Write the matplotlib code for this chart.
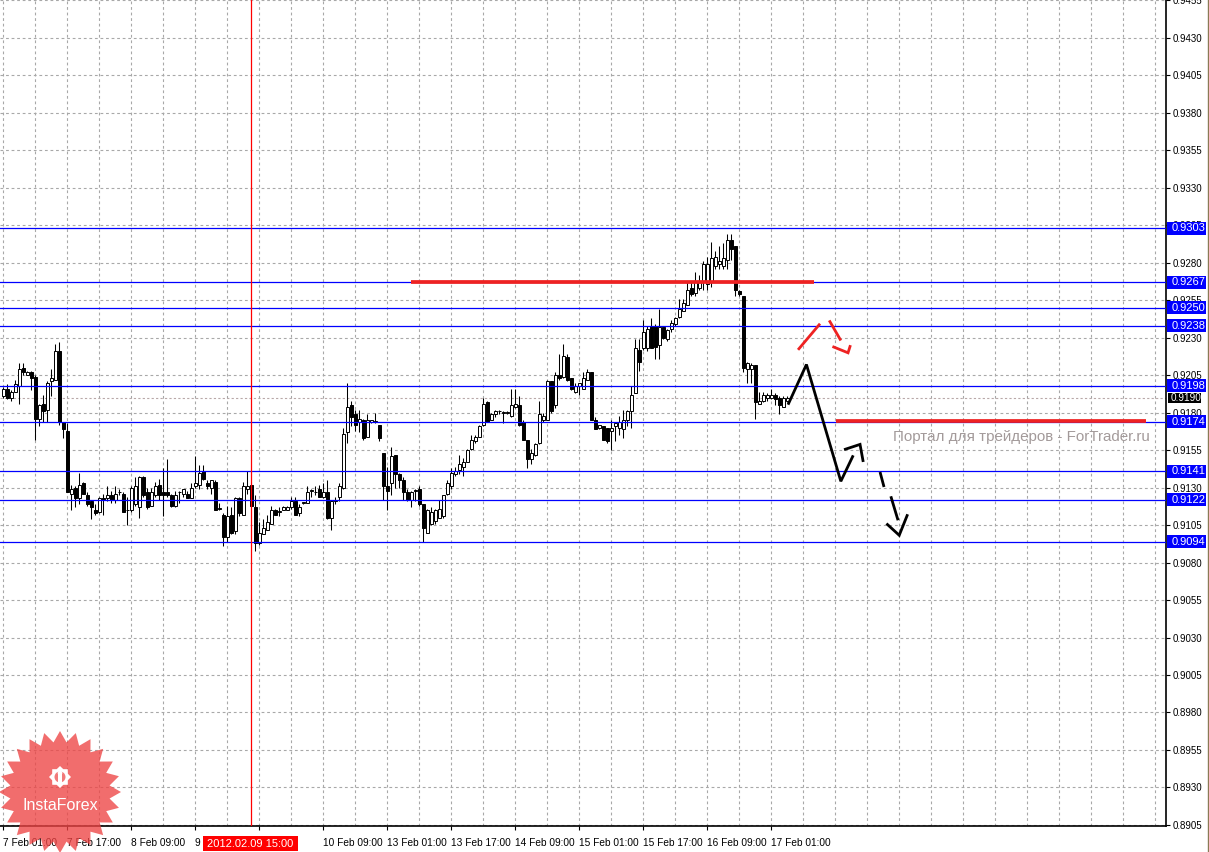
import numpy as np
import matplotlib.pyplot as plt
import matplotlib.transforms as mtransforms
from matplotlib.patches import Polygon, Rectangle, Circle
from matplotlib.ticker import MultipleLocator, FixedLocator
from matplotlib.lines import Line2D

plt.rcParams['font.family'] = ['Liberation Sans', 'DejaVu Sans']

# H1 candles, prices in pips (1 pip = 0.0001)
open_p = [9191, 9196, 9190, 9194, 9198, 9210, 9205, 9207, 9204, 9176,
          9186, 9182, 9201, 9202, 9221, 9174, 9168, 9126, 9130, 9123,
          9133, 9125, 9121, 9115, 9114, 9123, 9123, 9125, 9122, 9127,
          9126, 9115, 9115, 9119, 9117, 9137, 9127, 9118, 9125, 9132,
          9127, 9127, 9125, 9118, 9127, 9126, 9126, 9123, 9131, 9132,
          9141, 9133, 9130, 9134, 9116, 9112, 9097, 9112, 9101, 9123,
          9112, 9129, 9132, 9117, 9093, 9099, 9102, 9106, 9115, 9114,
          9115, 9115, 9117, 9121, 9113, 9120, 9120, 9128, 9127, 9129,
          9124, 9127, 9110, 9121, 9124, 9130, 9167, 9185, 9179, 9174,
          9175, 9164, 9174, 9174, 9172, 9153, 9131, 9133, 9152, 9139,
          9135, 9127, 9122, 9128, 9129, 9119, 9100, 9106, 9108, 9110,
          9111, 9126, 9131, 9139, 9142, 9144, 9147, 9156, 9161, 9164,
          9172, 9187, 9175, 9179, 9181, 9180, 9180, 9178, 9184, 9185,
          9174, 9162, 9149, 9152, 9160, 9175, 9175, 9201, 9185, 9205,
          9204, 9217, 9203, 9194, 9198, 9196, 9202, 9207, 9175, 9170,
          9171, 9170, 9168, 9171, 9170, 9169, 9175, 9181, 9193, 9222,
          9223, 9223, 9238, 9238, 9225, 9237, 9229, 9236, 9239, 9244,
          9248, 9252, 9263, 9260, 9263, 9267, 9266, 9268, 9278, 9279,
          9278, 9282, 9295, 9291, 9261, 9258, 9209, 9209, 9212, 9186,
          9188, 9190, 9190, 9192, 9190, 9184, 9188]
high_p = [9197, 9199, 9195, 9202, 9213, 9213, 9208, 9208, 9205, 9186,
          9192, 9201, 9209, 9226, 9227, 9174, 9173, 9132, 9131, 9140,
          9134, 9127, 9121, 9119, 9124, 9126, 9131, 9128, 9131, 9129,
          9127, 9124, 9131, 9137, 9138, 9138, 9130, 9130, 9134, 9136,
          9143, 9149, 9126, 9128, 9128, 9129, 9128, 9133, 9151, 9145,
          9145, 9135, 9135, 9135, 9120, 9113, 9118, 9117, 9124, 9124,
          9134, 9141, 9134, 9125, 9107, 9109, 9112, 9118, 9116, 9117,
          9118, 9118, 9124, 9124, 9119, 9120, 9131, 9129, 9131, 9132,
          9133, 9135, 9122, 9124, 9133, 9170, 9200, 9188, 9182, 9182,
          9176, 9179, 9175, 9180, 9172, 9153, 9144, 9157, 9152, 9140,
          9137, 9129, 9128, 9129, 9131, 9119, 9116, 9117, 9116, 9122,
          9125, 9135, 9143, 9144, 9152, 9150, 9156, 9165, 9165, 9172,
          9190, 9188, 9180, 9182, 9182, 9181, 9181, 9196, 9196, 9191,
          9175, 9162, 9156, 9160, 9188, 9180, 9202, 9201, 9207, 9219,
          9226, 9219, 9203, 9200, 9200, 9207, 9209, 9207, 9177, 9172,
          9171, 9170, 9175, 9174, 9178, 9182, 9182, 9198, 9229, 9229,
          9242, 9238, 9243, 9239, 9249, 9238, 9236, 9242, 9244, 9256,
          9256, 9267, 9267, 9274, 9272, 9281, 9284, 9294, 9288, 9291,
          9293, 9299, 9299, 9291, 9262, 9258, 9214, 9213, 9212, 9194,
          9194, 9193, 9196, 9193, 9191, 9191, 9191]
low_p = [9190, 9189, 9188, 9194, 9186, 9205, 9205, 9195, 9162, 9171,
         9174, 9174, 9191, 9202, 9172, 9163, 9127, 9115, 9117, 9119,
         9126, 9118, 9109, 9112, 9113, 9112, 9121, 9120, 9120, 9125,
         9114, 9105, 9114, 9118, 9110, 9124, 9116, 9118, 9124, 9122,
         9111, 9124, 9117, 9117, 9120, 9124, 9123, 9123, 9130, 9129,
         9135, 9129, 9126, 9115, 9115, 9091, 9094, 9099, 9099, 9111,
         9112, 9126, 9118, 9088, 9092, 9099, 9102, 9106, 9112, 9111,
         9115, 9115, 9116, 9112, 9111, 9119, 9120, 9124, 9125, 9124,
         9123, 9109, 9102, 9119, 9121, 9129, 9160, 9171, 9168, 9167,
         9162, 9164, 9173, 9173, 9161, 9122, 9115, 9125, 9130, 9130,
         9122, 9121, 9117, 9121, 9118, 9094, 9100, 9105, 9106, 9110,
         9110, 9125, 9129, 9138, 9139, 9138, 9147, 9155, 9160, 9164,
         9171, 9174, 9175, 9177, 9179, 9173, 9179, 9177, 9183, 9171,
         9162, 9143, 9146, 9151, 9159, 9174, 9175, 9180, 9183, 9202,
         9203, 9201, 9195, 9193, 9192, 9196, 9202, 9175, 9169, 9169,
         9162, 9160, 9155, 9161, 9165, 9163, 9171, 9170, 9193, 9208,
         9222, 9221, 9223, 9216, 9216, 9229, 9228, 9234, 9238, 9243,
         9248, 9252, 9258, 9258, 9262, 9262, 9262, 9264, 9276, 9276,
         9276, 9276, 9282, 9258, 9258, 9207, 9200, 9200, 9176, 9186,
         9187, 9188, 9189, 9185, 9179, 9184, 9187]
close_p = [9196, 9190, 9194, 9199, 9209, 9207, 9207, 9203, 9176, 9185,
           9181, 9200, 9203, 9221, 9174, 9169, 9127, 9129, 9123, 9132,
           9126, 9119, 9117, 9113, 9123, 9122, 9125, 9122, 9126, 9127,
           9114, 9115, 9130, 9131, 9137, 9125, 9117, 9127, 9131, 9125,
           9125, 9125, 9118, 9125, 9127, 9129, 9123, 9130, 9133, 9140,
           9136, 9131, 9135, 9115, 9116, 9097, 9111, 9100, 9123, 9113,
           9131, 9131, 9118, 9093, 9100, 9103, 9107, 9115, 9112, 9114,
           9117, 9117, 9121, 9112, 9117, 9120, 9127, 9128, 9127, 9124,
           9127, 9110, 9121, 9122, 9131, 9166, 9184, 9177, 9172, 9176,
           9163, 9175, 9175, 9174, 9163, 9131, 9128, 9151, 9139, 9135,
           9127, 9122, 9127, 9128, 9119, 9103, 9115, 9114, 9115, 9116,
           9125, 9133, 9140, 9141, 9146, 9147, 9155, 9162, 9164, 9171,
           9186, 9174, 9179, 9181, 9181, 9180, 9180, 9185, 9186, 9172,
           9162, 9149, 9153, 9159, 9179, 9178, 9201, 9181, 9205, 9203,
           9218, 9202, 9196, 9198, 9200, 9203, 9207, 9175, 9169, 9172,
           9162, 9161, 9170, 9173, 9174, 9175, 9181, 9192, 9223, 9214,
           9234, 9236, 9223, 9224, 9237, 9230, 9235, 9240, 9243, 9249,
           9253, 9262, 9259, 9268, 9268, 9279, 9279, 9283, 9284, 9281,
           9283, 9295, 9289, 9262, 9259, 9210, 9213, 9212, 9187, 9188,
           9192, 9192, 9192, 9189, 9185, 9190, 9190]

# bar 64 label ("9 Feb 17:00") sits under the cursor time box
time_labels = ['7 Feb 01:00', '7 Feb 17:00', '8 Feb 09:00', '9 Feb 01:00',
               '', '10 Feb 09:00', '13 Feb 01:00', '13 Feb 17:00',
               '14 Feb 09:00', '15 Feb 01:00', '15 Feb 17:00', '16 Feb 09:00',
               '17 Feb 01:00']
price_ticks = np.arange(8905, 9456, 25) / 10000

levels = [0.9303, 0.9267, 0.9250, 0.9238, 0.9198, 0.9174, 0.9141, 0.9122, 0.9094]
bid = 0.9190
cursor_bar = 62
cursor_text = '2012.02.09 15:00'

# hand drawn forecast (bar index, price)
red_lines = [([101.9, 202.7], [0.9267, 0.9267]), ([208.2, 285.7], [0.91745, 0.91745])]
black_zigzag = ([196.2, 200.8, 209.4, 212.5], [0.91853, 0.92121, 0.91342, 0.91515])
black_head1 = ([210.2, 214.2, 215.0], [0.91553, 0.91588, 0.91471])
black_dash = [([219.2, 220.2], [0.91404, 0.91304]), ([221.9, 223.7], [0.91242, 0.91082])]
black_head2 = ([220.8, 224.0, 226.1], [0.91060, 0.90982, 0.91122])
red_up = ([198.7, 204.2], [0.92219, 0.92393])
red_down = ([206.5, 209.4], [0.92415, 0.92281])
red_head = ([207.3, 211.2, 211.8], [0.92241, 0.92199, 0.92250])

o = np.array(open_p) / 10000
h = np.array(high_p) / 10000
l = np.array(low_p) / 10000
c = np.array(close_p) / 10000
x = np.arange(len(c))

fig = plt.figure(figsize=(12.09, 8.52), dpi=100)
ax = fig.add_axes([0, 26 / 852, 1166 / 1209, 826 / 852])
ax.set_xlim(-0.83, 290.7)
ax.set_ylim(0.89043, 0.94552)

# grid
grid_kw = dict(color='#a8a8a8', lw=0.8, ls=(0, (2.5, 2.5)))
ax.set_xticks(np.arange(0, 193, 16))
ax.set_xticklabels(time_labels, ha='left')
ax.xaxis.set_minor_locator(MultipleLocator(8))
ax.yaxis.set_major_locator(FixedLocator(price_ticks))
ax.yaxis.set_major_formatter(plt.FormatStrFormatter('%.4f'))
ax.grid(True, which='both', axis='x', **grid_kw)
ax.grid(True, which='major', axis='y', **grid_kw)
ax.set_axisbelow(True)

ax.yaxis.tick_right()
ax.tick_params(axis='y', which='major', direction='out', length=3, width=0.8,
               pad=2, labelsize=7, colors='black')
ax.tick_params(axis='x', which='major', direction='out', length=3, width=0.8,
               pad=5.5, labelsize=7.3, colors='black')
ax.tick_params(axis='x', which='minor', length=0)
for s in ['left', 'top']:
    ax.spines[s].set_visible(False)
for s in ['right', 'bottom']:
    ax.spines[s].set_linewidth(1.2)

# candles
ax.vlines(x, l, h, color='black', lw=0.75, zorder=2)
up = c >= o
ax.bar(x, np.maximum(np.abs(c - o), 0.00001), bottom=np.minimum(o, c), width=0.75,
       color=np.where(up, 'white', 'black'), edgecolor='black', linewidth=0.7, zorder=2.5)

# levels and cursor
ax.axhline(bid, color='#b8a8a8', lw=0.8, ls=(0, (2, 2)), zorder=1.5)
for lv in levels:
    ax.axhline(lv, color='#0000ff', lw=0.9, zorder=3)
ax.axvline(cursor_bar, color='#ff0000', lw=0.9, zorder=3)

# watermark
ax.text(222.4, 0.91635, 'Портал для трейдеров - ForTrader.ru', color='#a39a9a',
        fontsize=10.9, va='center', ha='left', zorder=1)

# forecast drawing
for xs, ys in red_lines:
    ax.plot(xs, ys, color='#ee2222', lw=2.7, solid_capstyle='butt', zorder=4)
line_kw = dict(lw=2.0, solid_capstyle='butt', solid_joinstyle='miter', zorder=5)
ax.plot(*black_zigzag, color='black', **line_kw)
ax.plot(*black_head1, color='black', **line_kw)
for xs, ys in black_dash:
    ax.plot(xs, ys, color='black', **line_kw)
ax.plot(*black_head2, color='black', **line_kw)
ax.plot(*red_up, color='#ee2222', **line_kw)
ax.plot(*red_down, color='#ee2222', **line_kw)
ax.plot(*red_head, color='#ee2222', **line_kw)

# price labels on the right
trans = mtransforms.blended_transform_factory(ax.transAxes, ax.transData)
for lv in levels:
    ax.add_patch(Rectangle((1.0009, lv - 0.00043), 0.0335, 0.00086, transform=trans,
                           fc='#0000ff', ec='none', clip_on=False, zorder=10))
    ax.text(1.0045, lv, f'{lv:.4f}', transform=trans, ha='left', va='center',
            color='white', fontsize=8, zorder=11, clip_on=False)
ax.add_patch(Rectangle((1.0018, bid - 0.00033), 0.0285, 0.00066, transform=trans,
                       fc='black', ec='none', clip_on=False, zorder=10))
ax.text(1.0042, bid, f'{bid:.4f}', transform=trans, ha='left', va='center',
        color='white', fontsize=7.2, zorder=11, clip_on=False)

# cursor time label
trans_x = mtransforms.blended_transform_factory(ax.transData, ax.transAxes)
ax.add_patch(Rectangle((49.9, -0.0303), 23.8, 0.0182, transform=trans_x,
                       fc='#ff0000', ec='none', clip_on=False, zorder=10))
ax.text(cursor_bar - 0.2, -0.0212, cursor_text, transform=trans_x, ha='center',
        va='center', color='white', fontsize=8, zorder=11, clip_on=False)

# InstaForex logo
ov = fig.add_axes([0, 0, 1, 1], zorder=5)
ov.set_xlim(0, 1209)
ov.set_ylim(852, 0)
ov.axis('off')
n = 24
ang = np.linspace(0, 2 * np.pi, 2 * n, endpoint=False) - np.pi / 2
rad = np.where(np.arange(2 * n) % 2 == 0, 61, 50)
star = np.column_stack([60 + rad * np.cos(ang), 792 + rad * np.sin(ang)])
ov.add_patch(Polygon(star, closed=True, fc='#ee4444', ec='none', alpha=0.78))
ga = np.linspace(0, 2 * np.pi, 16, endpoint=False)
gr = np.where(np.arange(16) % 2 == 0, 11, 8.5)
gear = np.column_stack([60 + gr * np.cos(ga), 777 + gr * np.sin(ga)])
ov.add_patch(Polygon(gear, closed=True, fc='white', ec='none'))
ov.add_patch(Circle((60, 777), 5.5, fc='#f27a7a', ec='none'))
ov.add_patch(Rectangle((58.2, 774), 3.6, 12, fc='white', ec='none'))
ov.add_patch(Circle((60, 773), 2.3, fc='white', ec='none'))
ov.text(60, 805, 'InstaForex', color='white', fontsize=11.5, ha='center', va='center')

fig.add_artist(Line2D([1207.5 / 1209, 1207.5 / 1209], [0, 1], color='#8a7a55', lw=1))

fig.savefig('out.png', dpi=100, facecolor='white')
